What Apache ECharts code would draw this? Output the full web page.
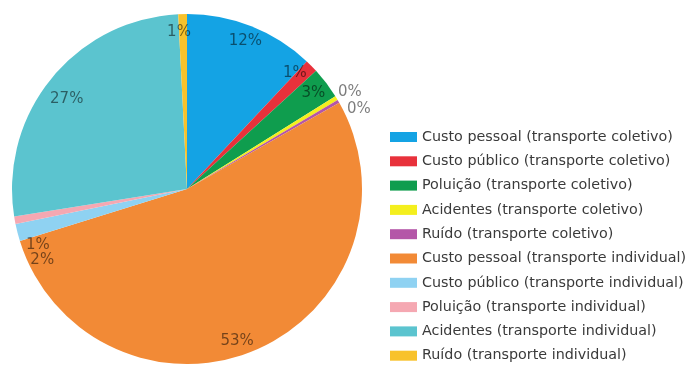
<!DOCTYPE html>
<html>
<head>
<meta charset="utf-8">
<script src="https://cdn.jsdelivr.net/npm/echarts@6/dist/echarts.min.js"></script>
<style>html,body{margin:0;padding:0;background:#fff}#c{width:688px;height:367px}</style>
</head>
<body>
<div id="c"></div>
<script>
const categories = [
  'Custo pessoal (transporte coletivo)',
  'Custo público (transporte coletivo)',
  'Poluição (transporte coletivo)',
  'Acidentes (transporte coletivo)',
  'Ruído (transporte coletivo)',
  'Custo pessoal (transporte individual)',
  'Custo público (transporte individual)',
  'Poluição (transporte individual)',
  'Acidentes (transporte individual)',
  'Ruído (transporte individual)'
];
const values = [12, 1.2, 2.9, 0.4, 0.3, 53.4, 1.6, 0.7, 26.7, 0.8];
const colors = ['#14a3e4', '#e8313b', '#0f9d4e', '#f4ef1e', '#b456a8', '#f28a36', '#8fd2f2', '#f5a8b2', '#5bc4cf', '#f8c22b'];

const CX = 187, CY = 189, R = 175;
const labelFont = { fontFamily: 'DejaVu Sans', fontSize: 15, color: 'rgba(0,0,0,0.52)' };
const outsideIdx = [3, 4];
const labelOffsets = { 1: [-5, -4], 3: [-3, -4], 4: [4, 10], 5: [-13, 6], 6: [9, 32], 7: [7, 28], 8: [3, 10], 9: [-4, 2] };

const mainData = categories.map((n, i) => ({ name: n, value: values[i], itemStyle: { color: colors[i] } }));
const labelData = categories.map((n, i) => {
  const d = { name: n, value: values[i], label: {} };
  if (outsideIdx.includes(i)) {
    d.label.position = 'outside';
    d.label.distanceToLabelLine = 1;
    d.labelLine = { show: false, length: 4, length2: 0 };
  }
  if (labelOffsets[i]) d.label.offset = labelOffsets[i];
  return d;
});

const chart = echarts.init(document.getElementById('c'), null, { renderer: 'canvas' });
chart.setOption({
  animation: false,
  backgroundColor: '#fff',
  legend: {
    orient: 'vertical',
    left: 390,
    top: 129,
    height: 300,
    padding: 0,
    itemWidth: 27,
    itemHeight: 10,
    itemGap: 8.3,
    icon: 'rect',
    textStyle: { fontFamily: 'DejaVu Sans', fontSize: 14.3, color: '#3a3a3a', lineHeight: 16 },
    data: categories
  },
  series: [
    {
      type: 'pie',
      center: [CX, CY],
      radius: R,
      startAngle: 90,
      clockwise: true,
      avoidLabelOverlap: false,
      label: { show: false },
      labelLine: { show: false },
      itemStyle: { borderWidth: 0 },
      emphasis: { disabled: true },
      data: mainData
    },
    {
      type: 'pie',
      center: [CX, CY],
      radius: [R * 0.78, R],
      startAngle: 90,
      clockwise: true,
      silent: true,
      avoidLabelOverlap: false,
      itemStyle: { color: 'rgba(0,0,0,0)', borderWidth: 0 },
      label: Object.assign({ show: true, position: 'inside', formatter: p => Math.round(p.value) + '%' }, labelFont),
      labelLine: { show: false },
      labelLayout: { hideOverlap: false },
      emphasis: { disabled: true },
      data: labelData
    }
  ]
});
</script>
</body>
</html>
